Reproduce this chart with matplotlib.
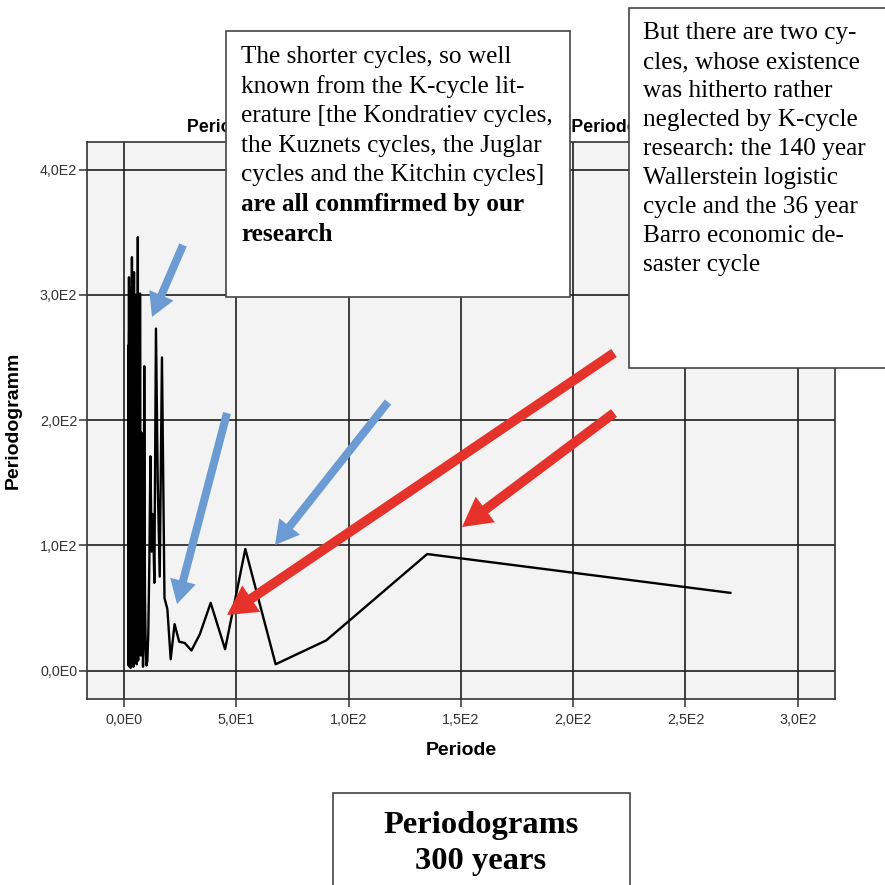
import matplotlib.pyplot as plt
from matplotlib.patches import Rectangle, FancyArrowPatch

# periodogram values (period in years, periodogram value)
periode = [270, 135, 90, 67.5, 54, 45, 38.57, 33.75, 30, 27,
           24.55, 22.5, 20.77, 19.29, 18, 16.88, 15.88, 15, 14.21, 13.5,
           12.86, 12.27, 11.74, 11.25, 10.8, 10.38, 10, 9.64, 9.31, 9,
           8.71, 8.44, 8.18, 7.94, 7.71, 7.5, 7.3, 7.11, 6.92, 6.75,
           6.59, 6.43, 6.28, 6.14, 6, 5.87, 5.74, 5.63, 5.51, 5.4,
           5.29, 5.19, 5.09, 5, 4.91, 4.82, 4.74, 4.66, 4.58, 4.5,
           4.43, 4.35, 4.29, 4.22, 4.15, 4.09, 4.03, 3.97, 3.91, 3.86,
           3.8, 3.75, 3.7, 3.65, 3.6, 3.55, 3.51, 3.46, 3.42, 3.38,
           3.33, 3.29, 3.25, 3.21, 3.18, 3.14, 3.1, 3.07, 3.03, 3,
           2.97, 2.93, 2.9, 2.87, 2.84, 2.81, 2.78, 2.76, 2.73, 2.7,
           2.67, 2.65, 2.62, 2.6, 2.57, 2.55, 2.52, 2.5, 2.48, 2.45,
           2.43, 2.41, 2.39, 2.37, 2.35, 2.33, 2.31, 2.29, 2.27, 2.25,
           2.23, 2.21, 2.2, 2.18, 2.16, 2.14, 2.13, 2.11, 2.09, 2.08,
           2.06, 2.05, 2.03, 2.01, 2]
periodogramm = [62, 93, 24, 5, 97, 17, 54, 29, 16, 22,
                23, 37, 9, 49, 58, 250, 75, 150, 273, 70,
                125, 95, 171, 85, 30, 8, 4, 18, 60, 243,
                35, 3, 110, 45, 190, 12, 140, 301, 60, 20,
                230, 95, 8, 346, 150, 40, 260, 5, 180, 70,
                300, 15, 120, 210, 6, 280, 90, 35, 240, 10,
                318, 130, 50, 200, 3, 270, 110, 25, 225, 60,
                8, 290, 140, 20, 185, 45, 330, 100, 5, 250,
                70, 160, 12, 295, 80, 30, 215, 4, 120, 265,
                40, 175, 2, 240, 90, 18, 305, 55, 135, 7,
                220, 100, 35, 280, 15, 160, 65, 250, 3, 195,
                120, 25, 290, 75, 10, 230, 145, 40, 270, 5,
                180, 85, 314, 30, 150, 8, 260, 60, 200, 15,
                240, 110, 4, 170, 20]

x_ticks = [0, 50, 100, 150, 200, 250, 300]
x_tick_labels = ['0,0E0', '5,0E1', '1,0E2', '1,5E2', '2,0E2', '2,5E2', '3,0E2']
y_ticks = [0, 100, 200, 300, 400]
y_tick_labels = ['0,0E0', '1,0E2', '2,0E2', '3,0E2', '4,0E2']

box1_lines = ['The shorter cycles, so well',
              'known from the K-cycle lit-',
              'erature [the Kondratiev cycles,',
              'the Kuznets cycles, the Juglar',
              'cycles and the Kitchin cycles]']
box1_bold = ['are all conmfirmed by our',
             'research']
box2_lines = ['But there are two cy-',
              'cles, whose existence',
              'was hitherto rather',
              'neglected by K-cycle',
              'research: the 140 year',
              'Wallerstein logistic',
              'cycle and the 36 year',
              'Barro economic de-',
              'saster cycle']
box3_lines = ['Periodograms', '300 years']

W = 885.0


def fx(px):
    return px / W


def fy(py):
    return 1 - py / W


sans = 'Liberation Sans'
serif = 'Liberation Serif'

fig = plt.figure(figsize=(8.85, 8.85), dpi=100)
ax = fig.add_axes([fx(87), fy(699), (835 - 87) / W, (699 - 142) / W])
ax.set_facecolor('#f3f3f3')

ax.plot(periode, periodogramm, color='black', lw=1.7, zorder=3)

ax.set_xlim(-16.5, 316.6)
ax.set_ylim(-22.75, 422)
ax.set_xticks(x_ticks)
ax.set_xticklabels(x_tick_labels, fontfamily=sans, fontsize=10.3, color='#333333')
ax.set_yticks(y_ticks)
ax.set_yticklabels(y_tick_labels, fontfamily=sans, fontsize=10.3, color='#333333')
ax.tick_params(direction='out', length=6, width=1.1, color='#333333')
ax.tick_params(axis='y', pad=1)
ax.tick_params(axis='x', pad=4)
ax.grid(True, color='#1e1e1e', lw=1.2)
ax.set_axisbelow(True)
for s in ax.spines.values():
    s.set_color('#333333')
    s.set_linewidth(1.2)

ax.set_xlabel('Periode', fontfamily=sans, fontsize=14, fontweight='bold', labelpad=11)
ax.set_ylabel('Periodogramm', fontfamily=sans, fontsize=14, fontweight='bold', labelpad=13)

# chart title, mostly hidden behind the text boxes
fig.text(fx(187), fy(132), 'Periodogramm von BIP Wachstumsrate nach Periode',
         fontfamily=sans, fontsize=12.8, fontweight='bold', ha='left', va='baseline', zorder=2)

# annotation boxes
for x0, y0, x1, y1 in [(226, 31, 570, 297), (629, 8, 900, 368), (333, 793, 630, 900)]:
    fig.add_artist(Rectangle((fx(x0), fy(y1)), (x1 - x0) / W, (y1 - y0) / W,
                             transform=fig.transFigure, facecolor='white',
                             edgecolor='#444444', lw=1.2, zorder=5))

# box texts, one line at a time (baseline positions in pixels)
for i, line in enumerate(box1_lines):
    fig.text(fx(241), fy(63 + i * 29.6), line, fontfamily=serif, fontsize=18.2,
             ha='left', va='baseline', zorder=6)
for i, line in enumerate(box1_bold):
    fig.text(fx(241), fy(63 + (i + 5) * 29.6), line, fontfamily=serif, fontsize=18.2,
             fontweight='bold', ha='left', va='baseline', zorder=6)
for i, line in enumerate(box2_lines):
    fig.text(fx(643), fy(39 + i * 29), line, fontfamily=serif, fontsize=18.2,
             ha='left', va='baseline', zorder=6)
for i, line in enumerate(box3_lines):
    fig.text(fx(481), fy(833 + i * 36), line, fontfamily=serif, fontsize=23.4,
             fontweight='bold', ha='center', va='baseline', zorder=6)

# arrows pointing at the cycles
blue = '#6b9bd2'
red = '#e5322a'
arrows = [((183, 245), (152, 317), blue, 5.8, 19, 17),
          ((227, 413), (177, 604), blue, 5.8, 19, 17),
          ((388, 402), (275, 545), blue, 5.8, 19, 17),
          ((614, 353), (227, 615), red, 7, 23, 21),
          ((614, 413), (462, 527), red, 7, 23, 21)]
for (xa, ya), (xb, yb), c, tw, hw, hl in arrows:
    style = 'simple,tail_width=%g,head_width=%g,head_length=%g' % (tw, hw, hl)
    fig.add_artist(FancyArrowPatch((fx(xa), fy(ya)), (fx(xb), fy(yb)),
                                   transform=fig.transFigure, arrowstyle=style,
                                   mutation_scale=1, color=c, shrinkA=0, shrinkB=0,
                                   lw=0, zorder=7))

fig.savefig('out.png', dpi=100)
